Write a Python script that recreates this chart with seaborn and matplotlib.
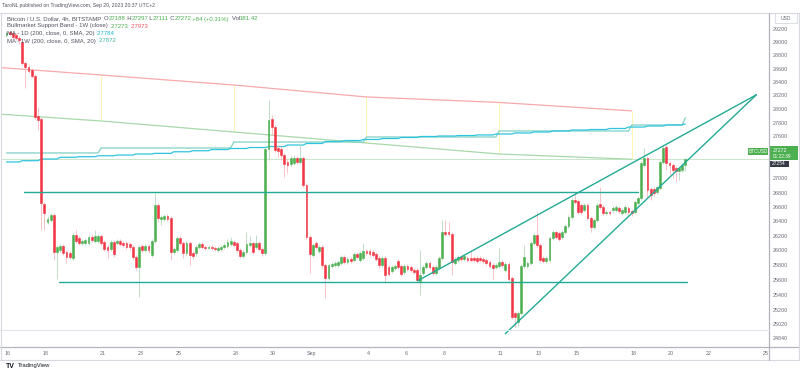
import matplotlib
matplotlib.use("Agg")
import matplotlib.pyplot as plt
import matplotlib.dates as mdates
from matplotlib.lines import Line2D
from matplotlib.patches import Rectangle
from matplotlib.ticker import FixedLocator, FixedFormatter, NullLocator
import pandas as pd
import seaborn as sns

# --------------------------------------------------
# data (BTCUSD 4h, Bitstamp, prices in USD)
# --------------------------------------------------
candle_start = "2023-08-15 22:00"

opens = [29108, 29154, 29138, 29108, 29063, 29002, 28684, 28624, 28579, 28489,
         27898, 27855, 26641, 26390, 26418, 26487, 25979, 26006, 26061, 25979,
         25966, 25898, 26211, 26170, 26102, 26102, 26102, 26184, 26129, 26129,
         26198, 26116, 26047, 26020, 26116, 26102, 26129, 26102, 26102, 26089,
         26047, 25911, 25776, 26061, 26006, 26061, 25938, 26129, 26627, 26432,
         26432, 26473, 26446, 25979, 26006, 26170, 26102, 25966, 26102, 25966,
         25966, 26047, 26089, 26047, 26034, 26047, 26034, 26006, 26020, 26047,
         26061, 26089, 26116, 26102, 26006, 25925, 25979, 26075, 26102, 26047,
         26102, 26020, 25966, 27420, 27855, 27737, 27434, 27420, 27333, 27234,
         27205, 27219, 27291, 27234, 27291, 26908, 26184, 25938, 26102, 25993,
         26047, 25803, 25627, 25789, 25803, 25803, 25830, 25911, 25843, 25884,
         25870, 25952, 25870, 25898, 25993, 25993, 25979, 25952, 25898, 25803,
         25898, 25776, 25722, 25762, 25857, 25789, 25708, 25789, 25776, 25735,
         25735, 25587, 25695, 25776, 25830, 25776, 25695, 25762, 25898, 26252,
         26252, 26225, 25830, 25870, 25911, 25884, 25898, 25898, 25898, 25898,
         25898, 25884, 25870, 25843, 25803, 25776, 25789, 25843, 25735, 25816,
         25627, 25161, 25043, 25161, 25789, 25789, 25830, 26102, 26211, 26075,
         25898, 25857, 25870, 26170, 26252, 26239, 26184, 26252, 26335, 26459,
         26697, 26683, 26627, 26557, 26627, 26446, 26321, 26418, 26641, 26599,
         26515, 26529, 26557, 26557, 26585, 26515, 26529, 26585, 26543, 26529,
         26655, 26725, 27191, 27291, 26851, 26851, 26809, 26866, 27234, 27448,
         27219, 27191, 27148, 27106, 27120, 27188]

highs = [29169, 29184, 29169, 29138, 29093, 29018, 28714, 28654, 28609, 28519,
         28030, 27884, 26669, 26473, 26515, 26515, 26075, 26089, 26089, 26006,
         25993, 26239, 26280, 26198, 26157, 26170, 26211, 26225, 26280, 26225,
         26225, 26143, 26075, 26143, 26143, 26157, 26157, 26129, 26129, 26116,
         26075, 25938, 26075, 26089, 26089, 26089, 26157, 26795, 26655, 26487,
         26501, 26501, 26473, 26047, 26198, 26198, 26129, 26129, 26129, 25993,
         26075, 26116, 26116, 26075, 26075, 26075, 26061, 26061, 26075, 26102,
         26157, 26184, 26143, 26129, 26034, 26006, 26252, 26198, 26129, 26211,
         26129, 26047, 27448, 28133, 27913, 27767, 27477, 27463, 27362, 27291,
         27319, 27333, 27319, 27506, 27319, 26936, 26211, 26102, 26129, 26075,
         26075, 25830, 25830, 25843, 25857, 25870, 25938, 25938, 25911, 25911,
         25979, 25979, 25993, 26102, 26020, 26020, 26006, 25979, 25925, 25925,
         25925, 25803, 25803, 25816, 25884, 25816, 25816, 25816, 25803, 25762,
         25762, 26006, 25803, 25857, 25857, 25803, 25803, 25925, 26418, 26418,
         26390, 26252, 25911, 25938, 25938, 25952, 25925, 26006, 25925, 25925,
         25925, 25911, 25898, 25870, 25830, 25830, 26034, 25870, 25843, 25843,
         25654, 25188, 25188, 25816, 26075, 25857, 26129, 26239, 26529, 26102,
         25925, 25925, 26198, 26280, 26280, 26266, 26280, 26363, 26487, 26725,
         26795, 26711, 26655, 26655, 26655, 26473, 26446, 26655, 26880, 26627,
         26557, 26557, 26613, 26627, 26613, 26585, 26627, 26613, 26571, 26697,
         26753, 27248, 27434, 27319, 26880, 26880, 26908, 27262, 27477, 27477,
         27248, 27219, 27177, 27177, 27219, 27297]

lows = [29078, 29093, 29048, 29033, 28972, 28654, 28311, 28534, 28460, 27855,
        27694, 26280, 26280, 26363, 26390, 25870, 25614, 25979, 25938, 25830,
        25884, 25870, 26102, 26075, 26075, 26075, 26075, 26116, 26102, 26102,
        26075, 25993, 25898, 25993, 25911, 26075, 26061, 26047, 26020, 26006,
        25884, 25735, 25373, 25979, 25979, 25966, 25911, 26102, 26390, 26349,
        26404, 26404, 25870, 25952, 25979, 26075, 25898, 25925, 25803, 25884,
        25925, 26020, 26020, 26006, 26020, 26006, 25993, 25979, 25993, 26020,
        26034, 26061, 26047, 25979, 25898, 25898, 25952, 26047, 25952, 26020,
        25993, 25925, 25938, 27262, 27622, 27377, 27305, 27262, 27021, 27078,
        27177, 27191, 27205, 27205, 26880, 26157, 25695, 25911, 26020, 25966,
        25762, 25360, 25600, 25762, 25776, 25776, 25803, 25816, 25816, 25830,
        25843, 25884, 25843, 25870, 25938, 25925, 25911, 25857, 25762, 25776,
        25560, 25654, 25695, 25735, 25749, 25654, 25681, 25722, 25708, 25681,
        25574, 25400, 25668, 25749, 25749, 25668, 25668, 25735, 25870, 26198,
        26198, 25668, 25803, 25843, 25857, 25857, 25843, 25843, 25843, 25830,
        25843, 25830, 25803, 25762, 25614, 25749, 25762, 25776, 25708, 25587,
        25082, 24978, 24991, 25135, 25762, 25762, 25803, 26075, 26047, 25843,
        25830, 25830, 25843, 26143, 26157, 26129, 26157, 26225, 26308, 26432,
        26641, 26501, 26501, 26529, 26418, 26252, 26294, 26390, 26571, 26487,
        26487, 26487, 26529, 26529, 26515, 26487, 26501, 26501, 26473, 26501,
        26627, 26697, 27163, 26725, 26697, 26753, 26781, 26837, 27205, 27120,
        27049, 27007, 26950, 26978, 27092, 27111]

closes = [29138, 29123, 29078, 29063, 29033, 28684, 28624, 28564, 28489, 27884,
          27840, 26655, 26515, 26432, 26487, 25979, 26047, 26061, 25966, 25911,
          25911, 26211, 26129, 26102, 26129, 26143, 26184, 26143, 26198, 26198,
          26102, 26020, 26006, 26116, 25952, 26129, 26089, 26075, 26047, 26047,
          25911, 25776, 26047, 26006, 26061, 26006, 26129, 26627, 26446, 26459,
          26473, 26432, 25979, 26020, 26170, 26102, 25966, 26102, 25938, 25925,
          26047, 26089, 26047, 26034, 26047, 26034, 26020, 26034, 26047, 26075,
          26116, 26129, 26075, 26006, 25925, 25979, 26089, 26102, 25979, 26102,
          26020, 25966, 27420, 27840, 27737, 27405, 27391, 27333, 27205, 27191,
          27291, 27291, 27234, 27291, 26908, 26184, 25952, 26075, 26047, 26047,
          25803, 25627, 25803, 25816, 25830, 25843, 25911, 25843, 25884, 25857,
          25952, 25911, 25966, 25993, 25966, 25952, 25938, 25884, 25803, 25898,
          25668, 25681, 25776, 25789, 25776, 25681, 25789, 25749, 25735, 25708,
          25600, 25668, 25776, 25830, 25776, 25695, 25776, 25898, 26252, 26225,
          26225, 25843, 25884, 25911, 25884, 25925, 25870, 25870, 25870, 25857,
          25870, 25857, 25830, 25789, 25762, 25803, 25843, 25803, 25816, 25614,
          25109, 25109, 25161, 25789, 25911, 25830, 26102, 26211, 26075, 25870,
          25857, 25898, 26170, 26252, 26184, 26157, 26252, 26335, 26459, 26697,
          26669, 26529, 26529, 26627, 26446, 26321, 26418, 26627, 26599, 26515,
          26529, 26515, 26585, 26599, 26543, 26557, 26599, 26529, 26515, 26669,
          26725, 27219, 27291, 26837, 26767, 26795, 26880, 27234, 27434, 27219,
          27191, 27120, 27106, 27148, 27191, 27272]

# MA - 1D (200): one value per daily bar
ma1d_start = "2023-08-15 18:00"
ma1d_values = [27234, 27252, 27276, 27301, 27309, 27323, 27333, 27348, 27357, 27380,
               27395, 27412, 27427, 27441, 27455, 27477, 27499, 27528, 27542, 27557,
               27571, 27586, 27600, 27607, 27614, 27622, 27636, 27651, 27665, 27680,
               27694, 27701, 27716, 27737, 27752, 27768, 27784]

# MA - 1W (200): weekly values, last one is the live bar
ma1w_dates = ["2023-08-13 22:00", "2023-08-20 22:00", "2023-08-27 22:00",
              "2023-09-03 22:00", "2023-09-10 22:00", "2023-09-17 22:00",
              "2023-09-20 18:00"]
ma1w_values = [27363, 27434, 27520, 27593, 27680, 27767, 27872]

# Bullmarket Support Band (1W): 20W SMA (red) and 21W EMA (green)
band_dates = ["2023-08-13 22:00", "2023-08-20 22:00", "2023-08-27 22:00",
              "2023-09-03 22:00", "2023-09-10 22:00", "2023-09-17 22:00"]
band_sma = [28650, 28504, 28355, 28178, 28097, 27973]
band_ema = [27957, 27825, 27665, 27506, 27348, 27273]

# drawings: horizontal levels and the rising wedge
level_starts = ["2023-08-16 20:00", "2023-08-18 16:00"]
level_ends = ["2023-09-18 06:00", "2023-09-20 20:00"]
level_prices = [26815, 25580]
wedge_starts = ["2023-09-06 15:00", "2023-09-11 06:00"]
wedge_start_prices = [25590, 24890]
wedge_apex = "2023-09-24 12:00"
wedge_apex_price = 28210

last_price = 27272

price_ticks = [29200, 29000, 28800, 28600, 28400, 28200, 28000, 27800, 27600,
               27000, 26800, 26600, 26400, 26200, 26000, 25800, 25600, 25400,
               25200, 25020, 24840]
date_ticks = ["2023-08-16", "2023-08-18", "2023-08-21", "2023-08-23", "2023-08-25",
              "2023-08-28", "2023-08-30", "2023-09-01", "2023-09-04", "2023-09-06",
              "2023-09-08", "2023-09-11", "2023-09-13", "2023-09-15", "2023-09-18",
              "2023-09-20", "2023-09-22", "2023-09-25"]
date_labels = ["16", "18", "21", "23", "25", "28", "30", "Sep", "4", "6", "8",
               "11", "13", "15", "18", "20", "22", "25"]

# --------------------------------------------------
# style
# --------------------------------------------------
sns.set_theme(style="white")
plt.rcParams["font.family"] = ["Liberation Sans", "DejaVu Sans"]

UP = "#4caf50"
DOWN = "#f23645"
UP_WICK = "#b7d8c0"
DOWN_WICK = "#f6b8bf"
TEAL_LINE = "#22ab94"
TXT = "#50535e"
AXIS_TXT = "#6a6d78"
GRID = "#e0e3eb"

W, H = 800, 375


def fx(px):
    return px / W


def fy(py):
    return 1 - py / H


def num(d):
    return mdates.date2num(pd.to_datetime(d).to_pydatetime())


fig = plt.figure(figsize=(8, 3.75), dpi=100, facecolor="white")
ax = fig.add_axes([fx(1.6), fy(347), (769 - 1.6) / W, (347 - 14) / H])
ax.set_facecolor("white")
ax.set_yscale("log")

# --------------------------------------------------
# candles
# --------------------------------------------------
times = pd.date_range(candle_start, periods=len(opens), freq="4h")
tx = mdates.date2num(times.to_pydatetime())
df = pd.DataFrame({"t": tx, "open": opens, "high": highs, "low": lows, "close": closes})
df["up"] = df["close"] >= df["open"]

# indicators per candle
ma1d = pd.Series(ma1d_values, index=pd.date_range(ma1d_start, periods=len(ma1d_values), freq="D"))
ma1w = pd.Series(ma1w_values, index=pd.to_datetime(ma1w_dates))
df["ma1d"] = ma1d.reindex(ma1d.index.union(times)).ffill().reindex(times).values
df["ma1w"] = ma1w.reindex(ma1w.index.union(times)).ffill().reindex(times).values

band = pd.DataFrame({"t": [num(d) for d in band_dates], "sma": band_sma, "ema": band_ema})

# band: red / green lines and the pale fill markers at the weekly points
sns.lineplot(data=band, x="t", y="sma", ax=ax, color="#f8a9a9", lw=0.9, estimator=None, sort=False)
sns.lineplot(data=band, x="t", y="ema", ax=ax, color="#a9d8ab", lw=0.9, estimator=None, sort=False)
ax.vlines(band["t"], band["ema"], band["sma"], color="#fff3a6", lw=0.6, zorder=1)

# moving averages
sns.lineplot(data=df, x="t", y="ma1w", ax=ax, color="#7fd1c6", lw=0.9, estimator=None, sort=False)
sns.lineplot(data=df, x="t", y="ma1d", ax=ax, color="#2ec4de", lw=0.9, estimator=None, sort=False)

# last price line
ax.axhline(last_price, color="#c9e7cb", lw=0.7, zorder=1)

width = (4 / 24) * 0.58
colors = [UP if u else DOWN for u in df["up"]]
wick_colors = [UP_WICK if u else DOWN_WICK for u in df["up"]]
ax.vlines(df["t"], df["low"], df["high"], color=wick_colors, lw=0.6, zorder=3)
body_lo = df[["open", "close"]].min(axis=1)
body_hi = df[["open", "close"]].max(axis=1)
ax.bar(df["t"], body_hi - body_lo, bottom=body_lo, width=width, color=colors,
       edgecolor=colors, linewidth=0.4, zorder=4)

# drawings
for s, e, p in zip(level_starts, level_ends, level_prices):
    ax.plot([num(s), num(e)], [p, p], color=TEAL_LINE, lw=1.0, zorder=5)
for s, p in zip(wedge_starts, wedge_start_prices):
    ax.plot([num(s), num(wedge_apex)], [p, wedge_apex_price], color=TEAL_LINE, lw=1.0, zorder=5)

# --------------------------------------------------
# axes
# --------------------------------------------------
ax.set_xlim(num("2023-08-15 15:50"), num("2023-09-25 04:00"))
ax.set_ylim(24717, 29430)
ax.set_xlabel("")
ax.set_ylabel("")

ax.yaxis.tick_right()
ax.yaxis.set_major_locator(FixedLocator(price_ticks))
ax.yaxis.set_major_formatter(FixedFormatter([str(v) for v in price_ticks]))
ax.yaxis.set_minor_locator(NullLocator())
ax.xaxis.set_major_locator(FixedLocator([num(d) for d in date_ticks]))
ax.xaxis.set_major_formatter(FixedFormatter(date_labels))
ax.xaxis.set_minor_locator(NullLocator())
ax.tick_params(axis="y", length=0, pad=3.0, labelsize=3.9, labelcolor=AXIS_TXT)
ax.tick_params(axis="x", length=0, pad=2.6, labelsize=3.9, labelcolor=AXIS_TXT)
for side in ["left", "top", "right", "bottom"]:
    ax.spines[side].set_visible(False)

# frame lines (figure pixels)
frame = [((0, 800), (12.5, 12.5), "#d6d9e0", 0.8),
         ((0, 800), (347, 347), "#b2b5be", 0.9),
         ((0, 800), (359.5, 359.5), "#d6d9e0", 0.8),
         ((769, 769), (12.5, 359.5), "#b2b5be", 0.9),
         ((0.8, 0.8), (12.5, 359.5), "#d6d9e0", 0.8),
         ((799.3, 799.3), (12.5, 359.5), "#d6d9e0", 0.8),
         ((0, 769), (330, 330), GRID, 0.8)]
for xs, ys, c, lw in frame:
    fig.add_artist(Line2D([fx(xs[0]), fx(xs[1])], [fy(ys[0]), fy(ys[1])], color=c, lw=lw))

# --------------------------------------------------
# texts
# --------------------------------------------------
fig.text(fx(2), fy(5), "TaroNL published on TradingView.com, Sep 20, 2023 20:37 UTC+2",
         size=3.7, color=TXT, va="center", ha="left")


def text_run(x, y, parts, size=4.3):
    t = fig.text(fx(x), fy(y), parts[0][0], color=parts[0][1], size=size, va="center", ha="left")
    for s, c in parts[1:]:
        t = ax.annotate(s, xy=(1, 0), xycoords=t, color=c, size=size, va="bottom", ha="left",
                        annotation_clip=False)


text_run(7, 19, [("Bitcoin / U.S. Dollar, 4h, BITSTAMP", TXT), ("\u2002O", TXT), ("27188", UP),
                 ("\u2009H", TXT), ("27297", UP), ("\u2009L", TXT), ("27111", UP), ("\u2009C", TXT),
                 ("27272", UP), ("\u2009+84 (+0.31%)", UP), ("\u2002Vol", TXT), ("181.42", UP)])
text_run(7, 26, [("Bullmarket Support Band - 1W (close)", TXT), ("\u2002" + "27273", UP),
                 ("\u2002" + "27973", "#f7525f")])
text_run(7, 33.5, [("MA - 1D (200, close, 0, SMA, 20)", TXT), ("\u2002" + "27784", "#1fb8d3")])
text_run(7, 41, [("MA - 1W (200, close, 0, SMA, 20)", TXT), ("\u2002" + "27872", "#3fb8a8")])

# price-scale labels
fig.add_artist(Rectangle((fx(775), fy(23)), 22 / W, 10 / H, facecolor="white",
                         edgecolor="#d6d9e0", lw=0.6))
fig.text(fx(786), fy(18), "USD", size=3.6, color=AXIS_TXT, ha="center", va="center")

fig.add_artist(Rectangle((fx(748), fy(155)), 20 / W, 7.5 / H, facecolor=UP, edgecolor="none"))
fig.text(fx(758), fy(151.2), "BTCUSD", size=3.4, color="white", ha="center", va="center")
fig.add_artist(Rectangle((fx(770), fy(160)), 28 / W, 14 / H, facecolor=UP, edgecolor="none"))
fig.text(fx(773), fy(150), "27272", size=3.8, color="white", ha="left", va="center")
fig.text(fx(773), fy(156.3), "01:22:39", size=3.4, color="white", ha="left", va="center")
fig.add_artist(Rectangle((fx(770), fy(167)), 19 / W, 6.5 / H, facecolor="#363a45", edgecolor="none"))
fig.text(fx(772), fy(163.8), "27254", size=3.5, color="white", ha="left", va="center")

# TradingView mark
fig.text(fx(6), fy(366), "TV", size=5.0, color="#131722", weight="bold", ha="left", va="center")
fig.text(fx(18), fy(366), "TradingView", size=4.2, color="#131722", ha="left", va="center")

fig.savefig("out.png", dpi=100, facecolor="white")
